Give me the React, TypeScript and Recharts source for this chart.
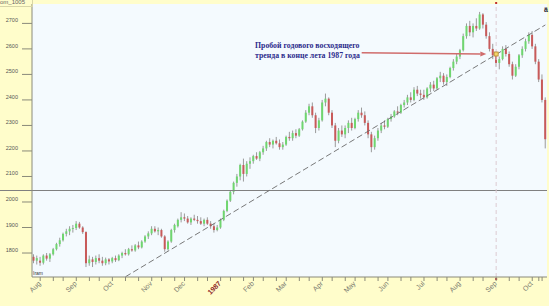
import React from 'react';
import { ComposedChart, Bar, XAxis, YAxis, CartesianGrid, ReferenceLine, ReferenceDot } from 'recharts';

// each bar: [open, high, low, close], roughly two sessions per bar
type Ohlc = [number, number, number, number];

const jul86: Ohlc[] = [[1785, 1795, 1760, 1770], [1770, 1790, 1755, 1780]];
const aug86: Ohlc[] = [
  [1770, 1785, 1750, 1762], [1762, 1795, 1755, 1790], [1790, 1800, 1770, 1778], [1778, 1800, 1765, 1795],
  [1795, 1820, 1790, 1815], [1815, 1840, 1810, 1835], [1835, 1860, 1825, 1850], [1850, 1880, 1845, 1875],
  [1875, 1895, 1865, 1885], [1885, 1905, 1870, 1895], [1895, 1910, 1880, 1898],
];
const sep86: Ohlc[] = [
  [1898, 1925, 1890, 1915], [1915, 1922, 1895, 1900], [1900, 1905, 1875, 1882], [1882, 1885, 1745, 1760],
  [1760, 1790, 1750, 1775], [1775, 1785, 1745, 1765], [1765, 1790, 1755, 1780], [1780, 1795, 1760, 1770],
  [1770, 1785, 1750, 1760], [1760, 1782, 1752, 1775], [1775, 1780, 1755, 1767],
];
const oct86: Ohlc[] = [
  [1767, 1785, 1760, 1780], [1780, 1790, 1765, 1772], [1772, 1795, 1768, 1790], [1790, 1805, 1780, 1800],
  [1800, 1815, 1790, 1795], [1795, 1820, 1790, 1815], [1815, 1830, 1805, 1810], [1810, 1835, 1805, 1830],
  [1830, 1845, 1815, 1822], [1822, 1850, 1818, 1845], [1845, 1870, 1840, 1865], [1865, 1885, 1855, 1877],
];
const nov86: Ohlc[] = [
  [1877, 1905, 1870, 1895], [1895, 1905, 1880, 1885], [1885, 1900, 1870, 1890], [1890, 1895, 1860, 1865],
  [1865, 1870, 1805, 1815], [1815, 1850, 1810, 1845], [1845, 1895, 1840, 1890], [1890, 1915, 1880, 1910],
  [1905, 1935, 1900, 1930], [1930, 1960, 1920, 1940],
];
const dec86: Ohlc[] = [
  [1940, 1955, 1925, 1935], [1935, 1945, 1915, 1920], [1920, 1940, 1910, 1935], [1935, 1950, 1925, 1930],
  [1930, 1945, 1915, 1925], [1925, 1940, 1910, 1915], [1915, 1935, 1905, 1930], [1930, 1940, 1910, 1915],
  [1915, 1925, 1895, 1905], [1905, 1915, 1880, 1890], [1890, 1910, 1885, 1900],
];
const jan87: Ohlc[] = [
  [1900, 1935, 1895, 1930], [1930, 1970, 1925, 1965], [1965, 2010, 1960, 2005], [2005, 2045, 2000, 2040],
  [2040, 2080, 2030, 2075], [2075, 2110, 2060, 2100], [2100, 2150, 2085, 2145], [2145, 2170, 2080, 2110],
  [2110, 2160, 2100, 2150], [2150, 2175, 2130, 2160],
];
const feb87: Ohlc[] = [
  [2160, 2185, 2150, 2180], [2180, 2195, 2165, 2170], [2170, 2200, 2160, 2195], [2195, 2220, 2185, 2210],
  [2210, 2240, 2200, 2235], [2235, 2250, 2215, 2225], [2225, 2245, 2210, 2240], [2240, 2255, 2225, 2230],
  [2230, 2245, 2205, 2215], [2215, 2235, 2205, 2225],
];
const mar87: Ohlc[] = [
  [2225, 2260, 2220, 2255], [2255, 2275, 2240, 2250], [2250, 2280, 2240, 2270], [2270, 2285, 2250, 2260],
  [2260, 2290, 2255, 2285], [2285, 2320, 2280, 2315], [2315, 2360, 2310, 2350], [2350, 2385, 2340, 2375],
  [2375, 2390, 2330, 2340], [2340, 2350, 2270, 2290], [2290, 2330, 2280, 2320],
];
const apr87: Ohlc[] = [
  [2320, 2400, 2315, 2390], [2390, 2425, 2375, 2405], [2405, 2410, 2340, 2350], [2350, 2360, 2290, 2300],
  [2300, 2310, 2215, 2240], [2240, 2290, 2230, 2280], [2280, 2300, 2255, 2265], [2265, 2300, 2250, 2290],
  [2290, 2320, 2270, 2310], [2310, 2330, 2280, 2290],
];
const may87: Ohlc[] = [
  [2290, 2330, 2285, 2325], [2325, 2360, 2315, 2350], [2350, 2370, 2330, 2340], [2340, 2355, 2300, 2310],
  [2310, 2320, 2250, 2265], [2265, 2275, 2195, 2215], [2215, 2260, 2205, 2250], [2250, 2290, 2240, 2280],
  [2280, 2310, 2270, 2300], [2300, 2320, 2285, 2295],
];
const jun87: Ohlc[] = [
  [2295, 2330, 2290, 2325], [2325, 2345, 2315, 2335], [2335, 2360, 2330, 2355], [2355, 2375, 2340, 2350],
  [2350, 2385, 2345, 2380], [2380, 2400, 2370, 2390], [2390, 2420, 2380, 2410], [2410, 2430, 2390, 2400],
  [2400, 2450, 2395, 2440], [2440, 2455, 2415, 2425], [2425, 2440, 2405, 2420],
];
const jul87: Ohlc[] = [
  [2420, 2440, 2400, 2410], [2410, 2450, 2405, 2445], [2445, 2470, 2430, 2460], [2460, 2475, 2435, 2445],
  [2445, 2490, 2440, 2485], [2485, 2510, 2470, 2495], [2495, 2505, 2460, 2470], [2470, 2500, 2455, 2490],
  [2490, 2530, 2485, 2525], [2525, 2560, 2515, 2550], [2550, 2580, 2540, 2570],
];
const aug87: Ohlc[] = [
  [2570, 2600, 2560, 2595], [2595, 2660, 2590, 2650], [2650, 2700, 2640, 2690], [2690, 2710, 2650, 2665],
  [2665, 2700, 2645, 2690], [2690, 2720, 2670, 2680], [2680, 2745, 2675, 2735], [2735, 2740, 2680, 2695],
  [2695, 2705, 2640, 2650], [2650, 2665, 2590, 2600], [2600, 2620, 2560, 2575],
];
const sep87: Ohlc[] = [
  [2575, 2590, 2530, 2545], [2545, 2570, 2520, 2560], [2560, 2610, 2555, 2600], [2600, 2615, 2570, 2580],
  [2580, 2590, 2530, 2540], [2540, 2550, 2480, 2495], [2495, 2540, 2490, 2530], [2530, 2580, 2520, 2575],
  [2575, 2610, 2565, 2600], [2600, 2640, 2590, 2630], [2630, 2665, 2620, 2655],
];
const oct87: Ohlc[] = [
  [2655, 2670, 2600, 2610], [2610, 2620, 2540, 2550], [2550, 2560, 2470, 2480], [2480, 2500, 2390, 2400],
  [2400, 2410, 2210, 2246],
];

const monthBars = [jul86, aug86, sep86, oct86, nov86, dec86, jan87, feb87, mar87, apr87, may87, jun87, jul87, aug87, sep87, oct87];
const monthLabels = ['', 'Aug', 'Sep', 'Oct', 'Nov', 'Dec', '1987', 'Feb', 'Mar', 'Apr', 'May', 'Jun', 'Jul', 'Aug', 'Sep', 'Oct'];
const yTicks = [1800, 1900, 2000, 2100, 2200, 2300, 2400, 2500, 2600, 2700];

const supportLevel = 2045;
const trendStart = { i: 28, v: 1707 };
const trendEnd = { i: 156, v: 2694 };
const breakIdx = 141;
const breakValue = 2580;
const arrowFrom = { i: 100, v: 2585 };
const arrowTo = { i: 138, v: 2580 };

const data: any[] = [];
const labelAt: Record<number, string> = {};
const xTicks: number[] = [];
monthBars.forEach((bars, m) => {
  const start = data.length;
  bars.forEach(([o, h, l, c]) => {
    data.push({ i: data.length, o, h, l, c, range: [l, h] });
  });
  if (monthLabels[m]) {
    labelAt[start] = monthLabels[m];
    xTicks.push(start, start + Math.round(bars.length / 3), start + Math.round((2 * bars.length) / 3));
  }
});

const Candle = (props: any) => {
  const { x, y, width, height, payload } = props;
  if (!payload) return null;
  const top = Math.min(y, y + height);
  const bottom = Math.max(y, y + height);
  const per = (bottom - top) / (payload.h - payload.l || 1);
  const yo = top + (payload.h - payload.o) * per;
  const yc = top + (payload.h - payload.c) * per;
  const up = payload.c >= payload.o;
  const cx = x + width / 2;
  const bTop = Math.min(yo, yc);
  const bH = Math.max(1, Math.abs(yo - yc));
  return (
    <g>
      <line x1={cx} y1={top} x2={cx} y2={bottom} stroke="#9a9a9a" strokeWidth={1} />
      <rect x={cx - 1} y={bTop} width={2} height={bH} fill={up ? '#6fd66f' : '#c85a5a'} />
    </g>
  );
};

const XTick = (props: any) => {
  const { x, y, payload } = props;
  const lab = labelAt[payload.value];
  const ax = x + 1;
  const ay = y + 7;
  return (
    <g>
      <line x1={x} y1={y} x2={x} y2={y + 4} stroke="#8a8a7a" />
      {lab && (
        <text
          x={ax}
          y={ay}
          transform={`rotate(-45 ${ax} ${ay})`}
          textAnchor="end"
          fontSize={7}
          fontFamily="Arial, 'Liberation Sans', sans-serif"
          fontWeight={lab === '1987' ? 700 : 400}
          fill={lab === '1987' ? '#8b1c1c' : '#7a7a70'}
        >
          {lab}
        </text>
      )}
    </g>
  );
};

const YTick = (props: any) => {
  const { x, y, payload } = props;
  return (
    <text x={x} y={y - 1} textAnchor="end" fontSize={5.5} fontFamily="Arial, 'Liberation Sans', sans-serif" fill="#555">
      {payload.value}
    </text>
  );
};

const SupportLine = (props: any) => (
  <line x1={0} y1={props.y1} x2={props.x2} y2={props.y2} stroke="#808080" strokeWidth={1} />
);

const CursorLine = (props: any) => (
  <g>
    <line x1={props.x1} y1={props.y1} x2={props.x2} y2={props.y2} stroke="#dccbd1" strokeDasharray="4 3" />
    <rect x={props.x1 - 1} y={props.y1 + 1} width={2} height={2} fill="#c03030" />
    <rect x={props.x2 - 1} y={props.y2 - 2} width={2} height={2} fill="#c03030" />
  </g>
);

const Arrow = (props: any) => {
  const { x1, y1, x2, y2 } = props;
  const ang = Math.atan2(y2 - y1, x2 - x1);
  const len = 6;
  const hw = 2.5;
  const bx = x2 - len * Math.cos(ang);
  const by = y2 - len * Math.sin(ang);
  const px = -Math.sin(ang) * hw;
  const py = Math.cos(ang) * hw;
  return (
    <g>
      <line x1={x1} y1={y1} x2={bx} y2={by} stroke="#d06c6c" strokeWidth={1.6} />
      <polygon points={`${x2},${y2} ${bx + px},${by + py} ${bx - px},${by - py}`} fill="#d06c6c" />
    </g>
  );
};

const BreakMark = (props: any) => (
  <rect x={props.cx - 2} y={props.cy - 2} width={4} height={4} fill="#f2d66a" stroke="#b8862a" strokeWidth={0.8} />
);

export default function App() {
  return (
    <div style={{ position: 'relative', width: 549, height: 306, background: '#FFFDCB', overflow: 'hidden' }}>
      <style>{'body{margin:0}'}</style>
      <ComposedChart width={549} height={306} data={data} margin={{ top: 4, right: 2, left: 0, bottom: 0 }}>
        <CartesianGrid horizontal={false} vertical={false} fill="#F4FAFE" stroke="none" />
        <XAxis
          dataKey="i"
          type="category"
          ticks={xTicks}
          interval={0}
          height={29}
          tick={<XTick />}
          tickLine={false}
          tickSize={0}
          tickMargin={0}
          axisLine={{ stroke: '#8a8a7a' }}
        />
        <YAxis
          domain={[1706, 2776]}
          ticks={yTicks}
          width={32}
          allowDataOverflow
          tick={<YTick />}
          tickSize={10}
          tickMargin={4}
          tickLine={{ stroke: '#8a8a7a' }}
          axisLine={{ stroke: '#8a8a7a' }}
        />
        <Bar dataKey="range" barSize={3} isAnimationActive={false} shape={(p: any) => <Candle {...p} />} />
        <ReferenceLine y={supportLevel} shape={(p: any) => <SupportLine {...p} />} />
        <ReferenceLine
          segment={[{ x: trendStart.i, y: trendStart.v }, { x: trendEnd.i, y: trendEnd.v }]}
          stroke="#6a6a6a"
          strokeDasharray="6 3"
          strokeWidth={0.9}
        />
        <ReferenceLine x={breakIdx} shape={(p: any) => <CursorLine {...p} />} />
        <ReferenceLine
          segment={[{ x: arrowFrom.i, y: arrowFrom.v }, { x: arrowTo.i, y: arrowTo.v }]}
          shape={(p: any) => <Arrow {...p} />}
        />
        <ReferenceDot x={breakIdx} y={breakValue} r={2} shape={(p: any) => <BreakMark {...p} />} />
      </ComposedChart>
      <div
        style={{
          position: 'absolute', left: 0, top: -1, width: 32, height: 7, borderRight: '1px solid #d8d6a8',
          borderBottom: '1px solid #d8d6a8', fontSize: 6, lineHeight: '7px', color: '#666',
          fontFamily: "Arial, 'Liberation Sans', sans-serif", overflow: 'hidden', whiteSpace: 'nowrap',
        }}
      >
        om_1005
      </div>
      <div
        style={{
          position: 'absolute', left: 33, top: 270, fontSize: 5, color: '#333',
          fontFamily: "Arial, 'Liberation Sans', sans-serif",
        }}
      >
        Iram
      </div>
      <div
        style={{
          position: 'absolute', left: 544, top: 6, fontSize: 7, fontWeight: 700, color: '#223',
          fontFamily: "Arial, 'Liberation Sans', sans-serif",
        }}
      >
        ä
      </div>
      <div
        style={{
          position: 'absolute', left: 255, top: 41, fontSize: 7.8, lineHeight: '10px', fontWeight: 700,
          color: '#2c2c8c', fontFamily: "'Liberation Serif', 'Times New Roman', serif", whiteSpace: 'nowrap',
        }}
      >
        Пробой годового восходящего
        <br />
        тренда в конце лета 1987 года
      </div>
    </div>
  );
}
